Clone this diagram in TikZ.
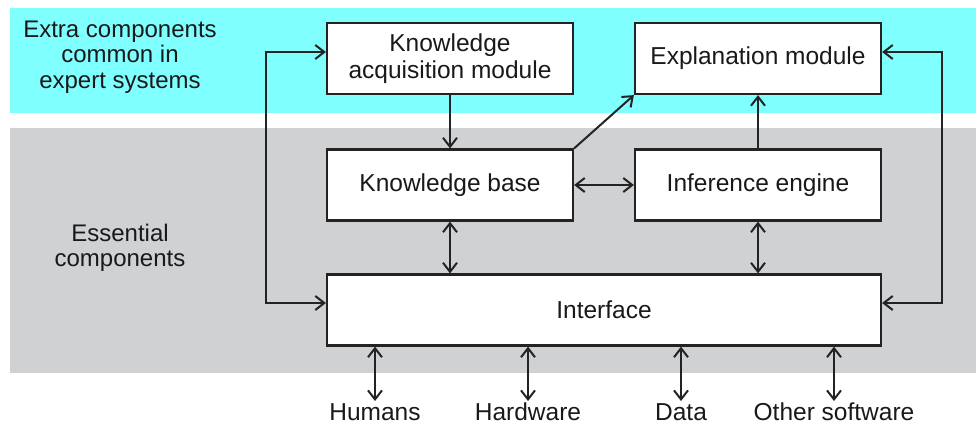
\documentclass[tikz,border=0pt]{standalone}
\usepackage{fontspec}
\setmainfont{Liberation Sans}
\usetikzlibrary{arrows.meta}

\definecolor{bandcyan}{RGB}{128,255,255}
\definecolor{bandgray}{RGB}{208,209,211}
\definecolor{linegray}{RGB}{35,35,35}

\tikzset{
  box/.style={draw=linegray, line width=2.2pt, fill=white,
              minimum width=246pt, minimum height=71pt, align=center,
              text=black!90, font=\fontsize{24.5}{27}\selectfont},
  side/.style={align=center, text=black!90, font=\fontsize{24}{25.5}\selectfont},
  ext/.style={text=black!90, font=\fontsize{24.5}{27}\selectfont, inner sep=2pt},
  conn/.style={draw=linegray, line width=2pt,
               >={Straight Barb[length=9pt, width=14pt, line width=2pt]}}
}

\begin{document}
\begin{tikzpicture}[x=1pt, y=-1pt]
  \useasboundingbox (0,0) rectangle (976,432);
  \fill[bandcyan] (10,8) rectangle (976,113);
  \fill[bandgray] (10,128) rectangle (976,373);

  \node[side] (Extra) at (120,57) {Extra components\\common in\\expert systems};
  \node[side] (Essential) at (120,248) {Essential\\components};

  \node[box] (KAM)  at (450,58.5) {Knowledge\\acquisition module};
  \node[box] (Expl) at (758,58.5) {Explanation module};
  \node[box] (KB)   at (450,185)  {Knowledge base};
  \node[box] (IE)   at (758,185)  {Inference engine};
  \node[box, minimum width=554pt] (Iface) at (604,310) {Interface};

  \foreach \x/\name/\txt in {375/Hum/Humans, 528/Hard/Hardware,
                             681/Data/Data, 834/Other/Other software} {
    \node[ext, anchor=north] (\name) at (\x,401) {\txt};
    \draw[conn, <->] (Iface.south -| \name) -- (\name.north);
  }

  \draw[conn, ->] (KAM) -- (KB);
  \draw[conn, ->] (IE) -- (Expl);
  \draw[conn, ->] (KB.north east) -- (Expl.south west);
  \draw[conn, <->] (KB) -- (IE);
  \draw[conn, <->] (KB.south) -- (KB.south |- Iface.north);
  \draw[conn, <->] (IE.south) -- (IE.south |- Iface.north);

  \coordinate (lft) at (266,200);
  \coordinate (rgt) at (942,200);
  \draw[conn, <->] ([yshift=6.5pt]KAM.west) -| (lft) |- ([yshift=7pt]Iface.west);
  \draw[conn, <->] ([yshift=6.5pt]Expl.east) -| (rgt) |- ([yshift=7pt]Iface.east);
\end{tikzpicture}
\end{document}
